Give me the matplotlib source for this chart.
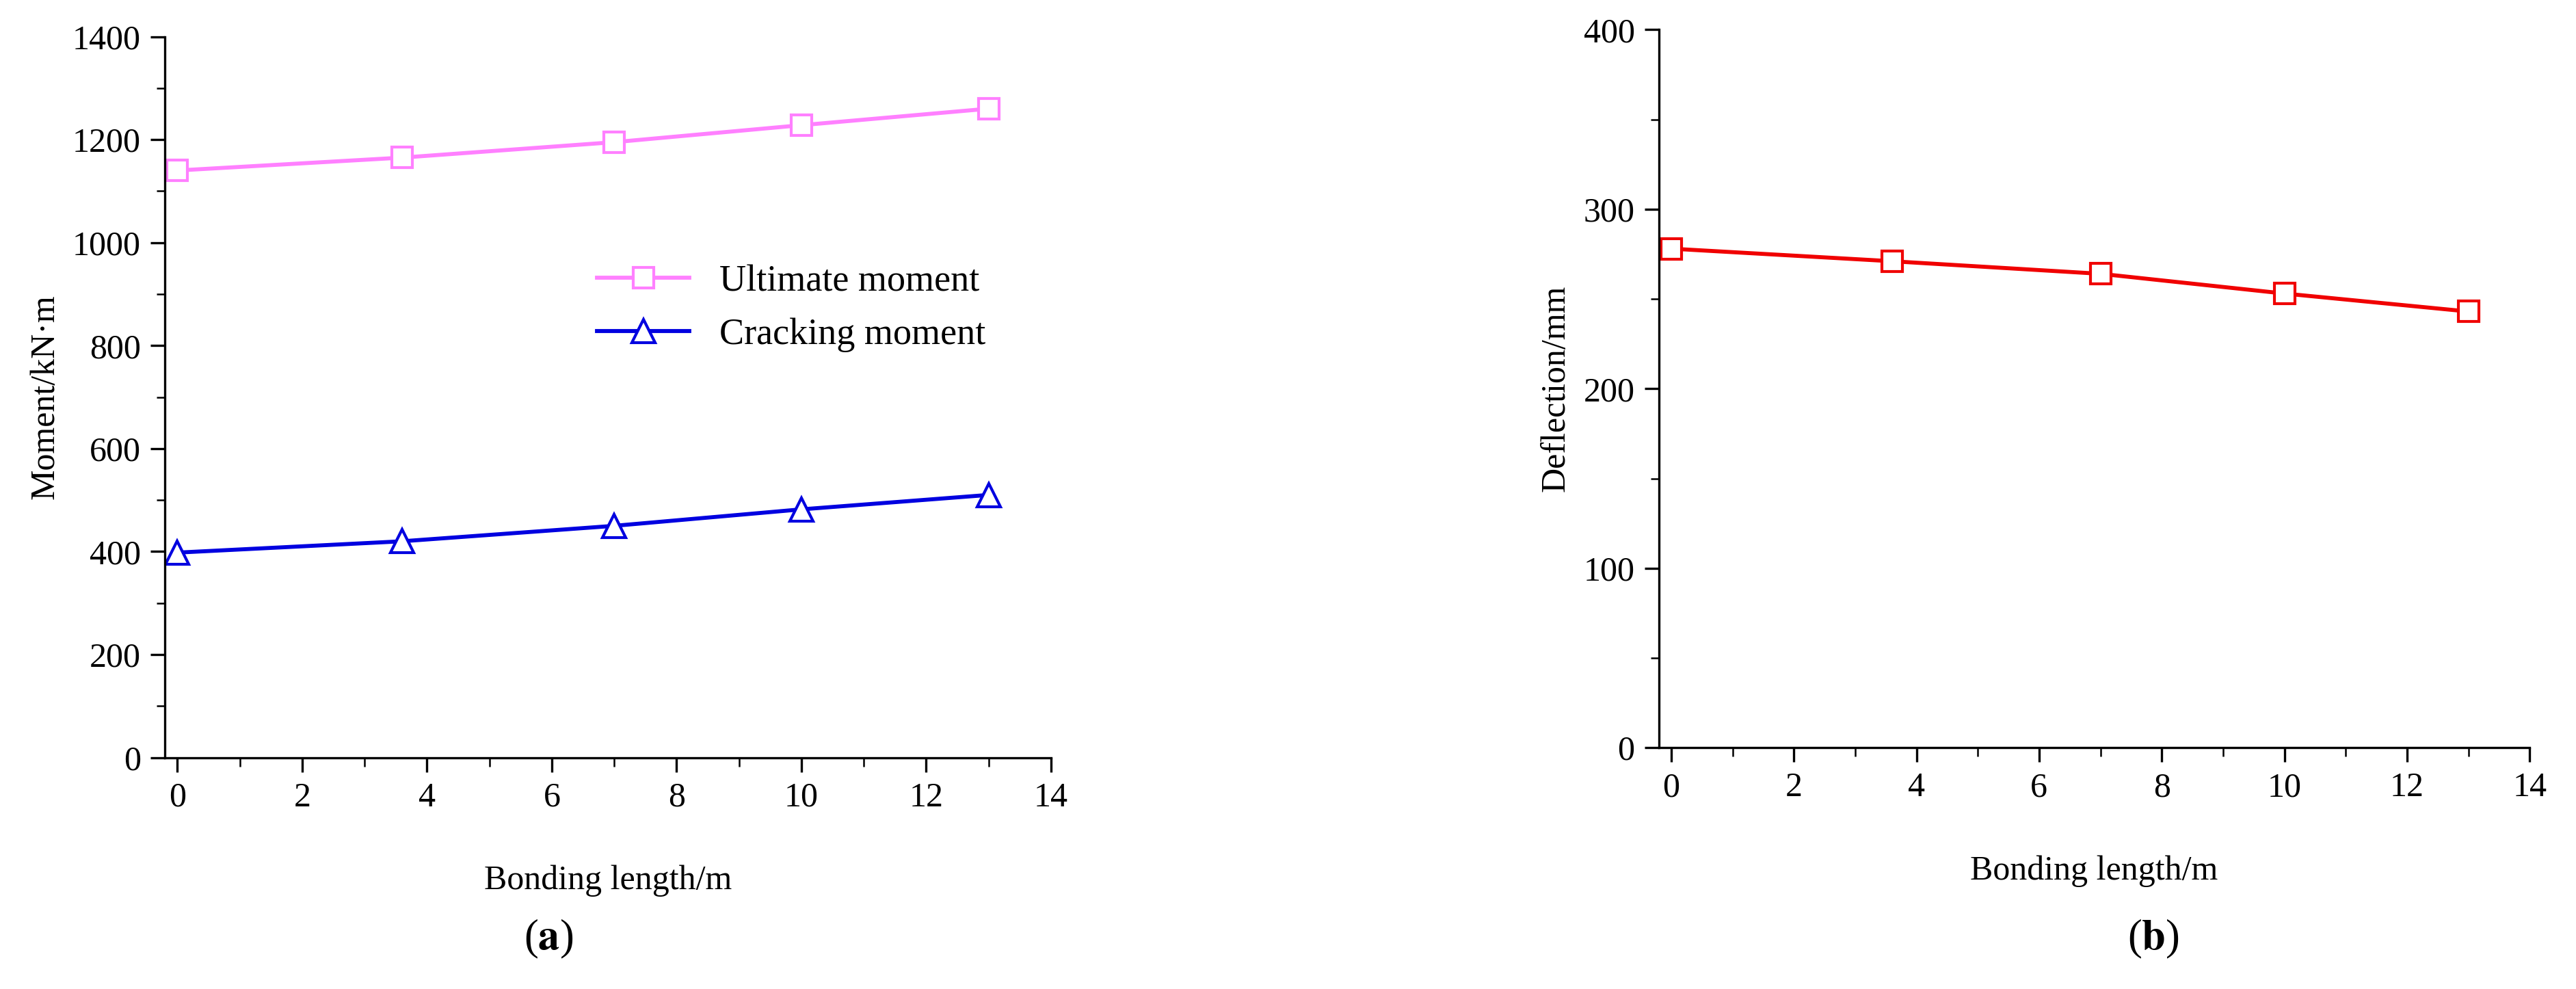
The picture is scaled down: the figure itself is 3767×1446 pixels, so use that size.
import matplotlib
matplotlib.use("Agg")
import matplotlib.pyplot as plt
from matplotlib.ticker import MultipleLocator

plt.rcParams["font.family"] = ["Liberation Serif", "DejaVu Serif"]
plt.rcParams["mathtext.fontset"] = "stix"
plt.rcParams["font.size"] = 12

# data
bond_len = [0, 3.6, 7, 10, 13]
ultimate = [1140, 1165, 1195, 1228, 1260]
cracking = [398, 420, 450, 482, 510]
deflection = [278, 271, 264, 253, 243]

fig = plt.figure(figsize=(3767 / 300, 1446 / 300), dpi=300)
ax1 = fig.add_axes([0.064, 0.234, 0.344, 0.729])
ax2 = fig.add_axes([0.644, 0.244, 0.338, 0.726])

def style(ax):
    for s in ("top", "right"):
        ax.spines[s].set_visible(False)
    ax.tick_params(which="both", direction="out")
    ax.tick_params(which="major", length=5)
    ax.tick_params(which="minor", length=3)
    ax.xaxis.set_major_locator(MultipleLocator(2))
    ax.xaxis.set_minor_locator(MultipleLocator(1))
    ax.set_xlim(-0.2, 14)
    ax.set_xlabel("Bonding length/m", labelpad=18)

ax1.plot(bond_len, ultimate, color="#ff80ff", marker="s", mfc="white", mec="#ff80ff",
         ms=7, lw=1.4, label="Ultimate moment")
ax1.plot(bond_len, cracking, color="#0000e0", marker="^", mfc="white", mec="#0000e0",
         ms=8, lw=1.4, label="Cracking moment")
style(ax1)
ax1.set_ylim(0, 1400)
ax1.yaxis.set_major_locator(MultipleLocator(200))
ax1.yaxis.set_minor_locator(MultipleLocator(100))
ax1.set_ylabel("Moment/kN·m")
ax1.legend(loc="upper left", bbox_to_anchor=(0.45, 0.73), frameon=False,
           handlelength=2.5, fontsize=13)

ax2.plot(bond_len, deflection, color="#f00000", marker="s", mfc="white", mec="#f00000",
         ms=7, lw=1.4)
style(ax2)
ax2.set_ylim(0, 400)
ax2.yaxis.set_major_locator(MultipleLocator(100))
ax2.yaxis.set_minor_locator(MultipleLocator(50))
ax2.set_ylabel("Deflection/mm")

fig.text(0.213, 0.04, r"($\mathbf{a}$)", ha="center", fontsize=15)
fig.text(0.836, 0.04, r"($\mathbf{b}$)", ha="center", fontsize=15)

fig.savefig("out.png", dpi=300)
